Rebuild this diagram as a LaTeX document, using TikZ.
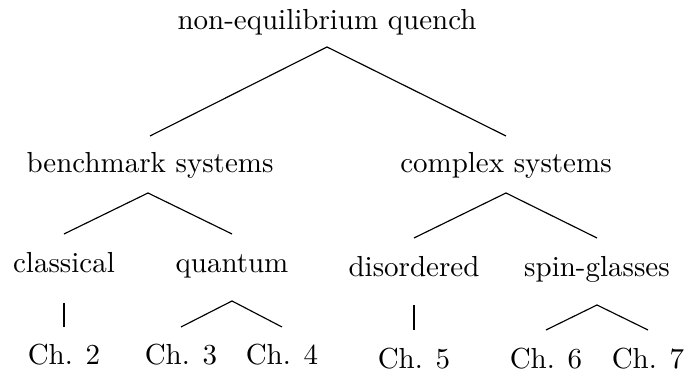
\documentclass[tikz,border=0pt]{standalone}
\usetikzlibrary{calc}
\begin{document}
\begin{tikzpicture}[x=0.345pt,y=-0.345pt,
  lbl/.style={anchor=base,inner sep=0pt},
  edge/.style={line width=0.4pt}]
\useasboundingbox (0,0) rectangle (686,373);
\node[lbl] (root) at (327,30) {non-equilibrium quench};
\node[lbl] (bench) at (150,173) {benchmark systems};
\node[lbl] (complex) at (506,173) {complex systems};
\node[lbl] (class) at (64,273) {classical};
\node[lbl] (quant) at (232,273) {quantum};
\node[lbl] (disord) at (414,277) {disordered};
\node[lbl] (spin) at (597,277) {spin-glasses};
\node[lbl] (ch2) at (64,365) {Ch. 2};
\node[lbl] (ch3) at (181,365) {Ch. 3};
\node[lbl] (ch4) at (282,365) {Ch. 4};
\node[lbl] (ch5) at (414,369) {Ch. 5};
\node[lbl] (ch6) at (546,369) {Ch. 6};
\node[lbl] (ch7) at (648,369) {Ch. 7};
% level 1
\draw[edge] ($(bench.base)+(0,-37)$) -- ($(root.base)+(0,17)$) -- ($(complex.base)+(0,-37)$);
% level 2
\draw[edge] ($(class.base)+(0,-39)$) -- ($(bench.base)+(-2,20)$) -- ($(quant.base)+(0,-39)$);
\draw[edge] ($(disord.base)+(0,-39)$) -- ($(complex.base)+(0,20)$) -- ($(spin.base)+(0,-39)$);
% level 3
\draw[edge] ($(class.base)+(0,30)$) -- ($(ch2.base)+(0,-38)$);
\draw[edge] ($(ch3.base)+(0,-38)$) -- ($(quant.base)+(0,28)$) -- ($(ch4.base)+(0,-38)$);
\draw[edge] ($(disord.base)+(0,28)$) -- ($(ch5.base)+(0,-39)$);
\draw[edge] ($(ch6.base)+(0,-39)$) -- ($(spin.base)+(0,28)$) -- ($(ch7.base)+(0,-39)$);
\end{tikzpicture}
\end{document}
